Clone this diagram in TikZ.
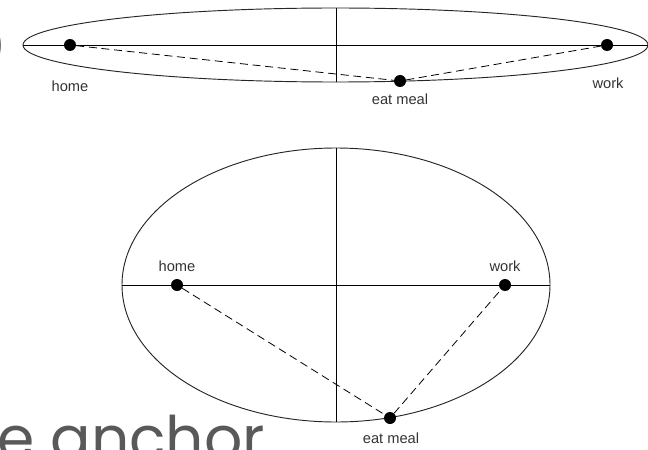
\documentclass[tikz,border=0pt]{standalone}
\usepackage{fontspec}
\setmainfont{Liberation Sans}
\newfontfamily\slidefont{Poppins}
\usetikzlibrary{positioning}

\begin{document}
\begin{tikzpicture}[x=0.75pt, y=-0.75pt,
  dot/.style={circle, fill=black, inner sep=0pt, minimum size=9pt},
  lbl/.style={font=\fontsize{11}{13}\selectfont, text=black!80, inner sep=0pt},
  slide/.style={font=\slidefont\fontsize{45}{50}\selectfont, text=black!65, inner sep=0pt},
  axis/.style={line width=0.7pt},
  rim/.style={line width=0.7pt, draw=black!85},
  trip/.style={dash pattern=on 6pt off 3.5pt, line width=0.6pt}
]
\useasboundingbox (0,0) rectangle (648,449);
\clip (0,0) rectangle (648,449);
% flat ellipse
\draw[rim] (335.5,45) ellipse [x radius=312.5, y radius=37];
\draw[axis] (23,45) -- (648,45);
\draw[axis] (336,8) -- (336,82);
\node[dot] (home1) at (70,45) {};
\node[dot] (work1) at (607,45) {};
\node[dot] (eat1) at (400,81) {};
\draw[trip] (home1) -- (eat1) -- (work1);
\node[lbl] (home1l) at (70,86) {home};
\node[lbl] (work1l) at (608,83) {work};
\node[lbl] (eat1l) at (400,99) {eat meal};
% round ellipse
\draw[rim] (336,285) ellipse [x radius=214, y radius=137];
\draw[axis] (122,285) -- (550,285);
\draw[axis] (336,148) -- (336,422);
\node[dot] (home2) at (177,285) {};
\node[dot] (work2) at (505,285) {};
\node[dot] (eat2) at (390,418) {};
\draw[trip] (home2) -- (eat2) -- (work2);
\node[lbl] (home2l) at (177,266) {home};
\node[lbl] (work2l) at (505,266) {work};
\node[lbl] (eat2l) at (391,438.5) {eat meal};
% slide text cut by the frame
\node[slide, anchor=east, font=\slidefont\fontsize{30}{34}\selectfont] (paren) at (6,46) {)};
\node[slide, anchor=base west] (title) at (-3,459) {e anchor};
\end{tikzpicture}
\end{document}
